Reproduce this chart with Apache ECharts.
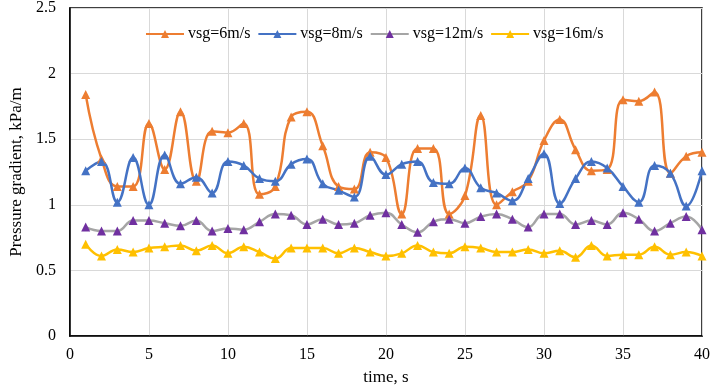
<!DOCTYPE html>
<html>
<head>
<meta charset="utf-8">
<script src="https://cdn.jsdelivr.net/npm/echarts@6/dist/echarts.min.js"></script>
<style>
  html, body { margin: 0; padding: 0; background: #fff; }
  #chart { width: 713px; height: 391px; }
</style>
</head>
<body>
<div id="chart"></div>
<script>
// time points, s
const times = [1, 2, 3, 4, 5, 6, 7, 8, 9, 10, 11, 12, 13, 14, 15, 16, 17, 18, 19, 20,
  21, 22, 23, 24, 25, 26, 27, 28, 29, 30, 31, 32, 33, 34, 35, 36, 37, 38, 39, 40];

// pressure gradient, kPa/m
const vsg6 = [1.84, 1.35, 1.14, 1.14, 1.62, 1.27, 1.71, 1.18, 1.56, 1.55,
  1.62, 1.08, 1.14, 1.67, 1.71, 1.45, 1.14, 1.12, 1.40, 1.36,
  0.93, 1.43, 1.43, 0.93, 1.07, 1.68, 1.00, 1.10, 1.18, 1.49,
  1.65, 1.42, 1.26, 1.27, 1.80, 1.79, 1.86, 1.24, 1.37, 1.40];
const vsg8 = [1.26, 1.33, 1.02, 1.36, 1.00, 1.38, 1.16, 1.21, 1.09, 1.33,
  1.30, 1.20, 1.18, 1.31, 1.35, 1.16, 1.11, 1.06, 1.37, 1.23,
  1.31, 1.33, 1.17, 1.16, 1.28, 1.13, 1.09, 1.03, 1.20, 1.39,
  1.01, 1.20, 1.33, 1.28, 1.14, 1.02, 1.30, 1.24, 0.99, 1.26];
const vsg12 = [0.83, 0.80, 0.80, 0.88, 0.88, 0.86, 0.84, 0.88, 0.80, 0.82,
  0.81, 0.87, 0.93, 0.92, 0.85, 0.89, 0.85, 0.86, 0.92, 0.94,
  0.85, 0.79, 0.87, 0.89, 0.86, 0.91, 0.93, 0.89, 0.83, 0.93,
  0.93, 0.85, 0.88, 0.85, 0.94, 0.89, 0.80, 0.86, 0.91, 0.81];
const vsg16 = [0.70, 0.61, 0.66, 0.64, 0.67, 0.68, 0.69, 0.65, 0.69, 0.63,
  0.68, 0.64, 0.59, 0.67, 0.67, 0.67, 0.63, 0.67, 0.64, 0.61,
  0.63, 0.69, 0.64, 0.63, 0.68, 0.67, 0.64, 0.64, 0.66, 0.63,
  0.65, 0.60, 0.69, 0.61, 0.62, 0.62, 0.68, 0.62, 0.64, 0.61];

const seriesNames = ['vsg=6m/s', 'vsg=8m/s', 'vsg=12m/s', 'vsg=16m/s'];

const font = '"Liberation Serif", "Times New Roman", serif';

const chart = echarts.init(document.getElementById('chart'));

const pairs = (vals) => vals.map((v, i) => [times[i], v]);

const makeSeries = (name, vals, lineColor, markColor) => ({
  name,
  type: 'line',
  data: pairs(vals),
  smooth: 0.45,
  symbol: 'triangle',
  symbolSize: 9,
  showAllSymbol: true,
  lineStyle: { color: lineColor, width: 2.5 },
  itemStyle: { color: markColor },
  emphasis: { disabled: true }
});

const option = {
  animation: false,
  backgroundColor: '#fff',
  grid: {
    left: 60,
    right: 10,
    top: 8,
    bottom: 53,
    show: true,
    borderColor: '#000',
    borderWidth: 1.5
  },
  legend: {
    data: seriesNames,
    top: 21,
    left: 140,
    itemWidth: 38,
    itemHeight: 10,
    itemGap: 7,
    textStyle: { fontFamily: font, fontSize: 16, color: '#000', padding: [0, 0, 0, -1] }
  },
  xAxis: {
    type: 'value',
    min: 0,
    max: 40,
    interval: 5,
    name: 'time, s',
    nameLocation: 'middle',
    nameGap: 33,
    nameTextStyle: { fontFamily: font, fontSize: 17, color: '#000' },
    axisLine: { lineStyle: { color: '#000', width: 1.5 } },
    axisTick: { show: false },
    axisLabel: { fontFamily: font, fontSize: 16, color: '#000', margin: 11 },
    splitLine: { show: true, lineStyle: { color: '#d9d9d9', width: 1 } }
  },
  yAxis: {
    type: 'value',
    min: 0,
    max: 2.5,
    interval: 0.5,
    name: 'Pressure gradient, kPa/m',
    nameLocation: 'middle',
    nameGap: 41,
    nameTextStyle: { fontFamily: font, fontSize: 17, color: '#000' },
    axisLine: { show: true, lineStyle: { color: '#000', width: 1.5 } },
    axisTick: { show: false },
    axisLabel: { fontFamily: font, fontSize: 16, color: '#000', margin: 14 },
    splitLine: { show: true, lineStyle: { color: '#d9d9d9', width: 1 } }
  },
  series: [
    makeSeries(seriesNames[0], vsg6, '#ED7D31', '#ED7D31'),
    makeSeries(seriesNames[1], vsg8, '#4472C4', '#4472C4'),
    makeSeries(seriesNames[2], vsg12, '#A5A5A5', '#7030A0'),
    makeSeries(seriesNames[3], vsg16, '#FFC000', '#FFC000')
  ]
};

chart.setOption(option);
</script>
</body>
</html>
